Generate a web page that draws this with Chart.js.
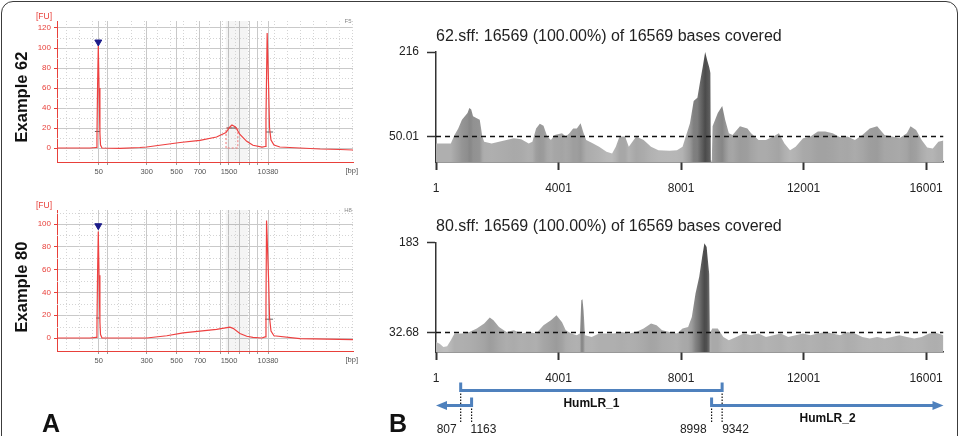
<!DOCTYPE html>
<html>
<head>
<meta charset="utf-8">
<script src="https://cdn.jsdelivr.net/npm/chart.js@4.4.1/dist/chart.umd.min.js"></script>
<style>
  body { margin: 0; background: #fff; font-family: "Liberation Sans", Arial, sans-serif; overflow: hidden; }
  #frame { position: absolute; left: 1px; top: 1px; width: 955px; height: 470px; border: 1.5px solid #3c3c3c; border-radius: 12px; }
  .box { position: absolute; }
  .side { position: absolute; font-weight: bold; font-size: 16.5px; color: #111; white-space: nowrap;
          transform: translate(-50%, -50%) rotate(-90deg); }
  .letter { position: absolute; font-weight: bold; font-size: 25px; line-height: 25px; color: #111; }
</style>
</head>
<body>
<div id="frame"></div>
<div class="box" style="left:0;top:0;width:380px;height:200px"><canvas id="ex62"></canvas></div>
<div class="box" style="left:0;top:195px;width:380px;height:241px"><canvas id="ex80"></canvas></div>
<div class="box" style="left:380px;top:0;width:581px;height:200px"><canvas id="cov62"></canvas></div>
<div class="box" style="left:380px;top:200px;width:581px;height:236px"><canvas id="cov80"></canvas></div>
<div class="side" style="left:21px;top:97px">Example 62</div>
<div class="side" style="left:21px;top:287px">Example 80</div>
<div class="letter" style="left:42px;top:411px">A</div>
<div class="letter" style="left:389px;top:411px">B</div>
<script>
// ---- Panel A: electropherograms (x = migration time, labelled with ladder sizes) ----
var ladderBp     = [50, 100, 300, 500, 700, 1000, 1500, 2000, 3000, 7000, 10380];
var ladderTime   = [34.1, 37.2, 50.3, 60.4, 68.3, 75.1, 78.1, 81.8, 85.2, 87.6, 91.3];
var ladderLabels = ['50', '', '300', '500', '700', '', '1500', '', '', '', '10380'];

var time62 = [20, 31.1, 33.2, 33.5, 33.7, 33.95, 34.2, 34.5, 34.7, 35.2, 41.3, 48.0, 50.3, 61.6, 68.3, 73.9, 77.1, 78.4, 79.1, 80.3,
              81.8, 84.1, 86.2, 89.3, 90.3, 90.6, 91.0, 91.5, 91.8, 92.3, 93.3, 95.3, 102.1, 108.9, 115.6, 120];
var fu62   = [0, 0, 0.5, 10, 60, 102, 60, 15, 3, 0, -0.3, 0.5, 1, 5.5, 7.7, 11, 15.5, 21, 23, 21,
              13.5, 6.7, 2.7, 0.8, 1.5, 30, 115, 60, 20, 8, 3, 1, 0, -1, -1.5, -2];
var fuTicks62 = [0, 20, 40, 60, 80, 100, 120];

var time80 = [20, 31.1, 33.2, 33.5, 33.7, 33.95, 34.2, 34.5, 34.7, 35.2, 41.3, 50.3, 57.1, 62.6, 68.3, 73.9, 78.4, 79.5, 81.8, 84.1,
              86.2, 89.2, 90.3, 90.6, 90.8, 91.5, 91.8, 92.3, 93.3, 102.1, 120];
var fu80   = [0, 0, 0.5, 10, 55, 93.5, 55, 14, 3, 0, 0, 0, 2, 4.5, 6, 7.5, 9.5, 8.5, 4, 1.5,
              0.5, 0, 1, 30, 103, 50, 18, 6, 2, -0.5, -1.5];
var fuTicks80 = [0, 20, 40, 60, 80, 100];

// peak width marks [from, to, level], lower marker and selected region
var marks62 = [[32.8, 34.5, 16.5], [77.4, 80.8, 20], [90.6, 93.0, 16]];
var marks80 = [[33.2, 34.5, 17.5], [90.3, 93.0, 16.5]];
var marker62 = [33.95, 106];
var marker80 = [33.95, 98.5];
var region62 = [77.1, 81.1, 20];

// ---- Panel B: coverage along the mitochondrial genome ----
var pos62 = [1, 485, 606, 727, 848, 1030, 1090, 1151, 1211, 1332, 1429, 1514, 1574, 1816, 2058, 2301, 2543, 2785, 3027, 3148,
             3269, 3390, 3511, 3632, 3753, 3874, 4116, 4237, 4358, 4479, 4600, 4721, 4818, 4903, 5084, 5326, 5568, 5750, 5871, 5992,
             6174, 6295, 6537, 6779, 7021, 7263, 7626, 7868, 8050, 8171, 8292, 8413, 8534, 8618, 8715, 8788, 8860, 8921, 8960, 8975,
             9005, 9030, 9200, 9345, 9441, 9562, 9683, 9925, 10167, 10288, 10531, 10773, 11015, 11196, 11378, 11559, 11741, 11983, 12225, 12467,
             12709, 12951, 13193, 13435, 13677, 13919, 14161, 14403, 14645, 14887, 15130, 15372, 15493, 15674, 15856, 16037, 16219, 16401, 16569];
var cov62 = [36.5, 36.5, 53, 66, 83, 96, 106, 103, 90, 86, 83, 50, 40, 36.5, 40, 43, 46.5, 44.5, 36.5, 40,
             66, 75, 71, 50, 43, 53, 56.5, 50, 56.5, 66, 66, 76, 57, 43, 38, 30, 20, 16.6, 30, 50,
             50, 30, 50, 43, 30, 23, 22, 23, 30, 53, 76, 120, 126, 156, 189, 216, 199, 186, 175, 3,
             3, 70, 96, 110, 83, 56.5, 53, 70, 66, 56.5, 43, 43, 50, 56.5, 36.5, 23, 30, 46.5, 50, 60,
             60, 56.5, 48.5, 50, 43, 53, 66, 70, 53, 50, 46.5, 56.5, 70, 63, 43, 28.6, 26.6, 40, 42];
var max62 = 216, mean62 = 50.01;

var pos80 = [1, 122, 243, 364, 485, 606, 848, 1090, 1332, 1574, 1756, 1877, 2058, 2301, 2543, 2785, 3027, 3269, 3511, 3753,
             3934, 4116, 4237, 4418, 4600, 4697, 4745, 4782, 4818, 4867, 5084, 5326, 5568, 5810, 6053, 6295, 6537, 6779, 7021, 7202,
             7384, 7626, 7868, 8050, 8232, 8352, 8473, 8594, 8691, 8763, 8836, 8897, 8921, 8945, 9018, 9200, 9381, 9562, 9804, 10046,
             10288, 10531, 10773, 11015, 11257, 11499, 11741, 11983, 12225, 12467, 12709, 12951, 13193, 13435, 13677, 13919, 14161, 14403, 14645, 14887,
             15130, 15372, 15614, 15856, 16098, 16340, 16569];
var cov80 = [16.8, 14, 8.4, 9.5, 19.6, 30.8, 30.8, 33.6, 39.2, 47.6, 57.6, 53, 42, 33.6, 36.4, 30.8, 33.6, 30.8, 44.8, 53,
             61.6, 50, 36.4, 30.8, 28, 30.8, 86.7, 88.4, 70, 28, 25, 30.8, 30.8, 30.8, 33.6, 30.8, 33.6, 39.2, 47.6, 44.8,
             36.4, 33.6, 30.8, 39.2, 42, 58.8, 98, 126, 159.5, 182, 176, 142.7, 130, 31, 39.2, 39.2, 25, 19.6, 25, 30.8,
             28, 30.8, 25, 28, 30.8, 25, 28, 30.8, 28, 30.8, 33.6, 30.8, 28, 33.6, 30.8, 25, 22.4, 25, 22.4, 25,
             28, 25, 22.4, 25, 30.8, 32, 28];
var max80 = 183, mean80 = 32.68;

var genomeLength = 16569;
var genomeTicks = [1, 4001, 8001, 12001, 16001];

// long-range PCR amplicons (HumLR_2 wraps around the origin)
var ampliconNames = ['HumLR_1', 'HumLR_2'];
var ampliconStart = [807, 8998];
var ampliconEnd   = [9342, 1163];

Chart.defaults.font.family = '"Liberation Sans", Arial, sans-serif';
Chart.defaults.animation = false;

var RED = '#e8403a';
var BLUE = '#4f81bd';

function pts(xs, ys) {
    return xs.map(function(x, i) { return {x: x, y: ys[i]}; });
}

// dotted minor grid, grey band and the small axis captions of the electropherograms
var electroDecor = {
    id: 'electroDecor',
    beforeDatasetsDraw: function(chart, args, opts) {
        var ctx = chart.ctx, a = chart.chartArea, xs = chart.scales.x, ys = chart.scales.y;
        ctx.save();
        var b0 = xs.getPixelForValue(77), b1 = xs.getPixelForValue(84.5);
        ctx.fillStyle = 'rgba(0,0,0,0.045)';
        ctx.fillRect(b0, a.top, b1 - b0, a.bottom - a.top);
        ctx.strokeStyle = '#d4d4d4';
        ctx.lineWidth = 1;
        ctx.setLineDash([1, 2]);
        for (var t = 23; t < 120; t += 4.4) {
            var px = Math.round(xs.getPixelForValue(t)) + 0.5;
            ctx.beginPath(); ctx.moveTo(px, a.top); ctx.lineTo(px, a.bottom); ctx.stroke();
        }
        for (var v = 10; v < ys.max; v += 20) {
            var py = Math.round(ys.getPixelForValue(v)) + 0.5;
            ctx.beginPath(); ctx.moveTo(a.left, py); ctx.lineTo(a.right, py); ctx.stroke();
        }
        ctx.restore();
    },
    afterDraw: function(chart, args, opts) {
        var ctx = chart.ctx, a = chart.chartArea;
        ctx.save();
        ctx.textBaseline = 'middle';
        ctx.font = '8.5px "Liberation Sans", Arial';
        ctx.fillStyle = RED;
        ctx.textAlign = 'center';
        ctx.fillText('[FU]', a.left - 13, a.top - 4.5);
        ctx.font = '7.5px "Liberation Sans", Arial';
        ctx.fillStyle = '#555';
        ctx.textAlign = 'right';
        ctx.fillText('[bp]', a.right + 5, a.bottom + 9);
        ctx.font = '6px "Liberation Sans", Arial';
        ctx.fillStyle = '#888';
        ctx.textAlign = 'center';
        ctx.fillText(opts.well, a.right - 5, a.top);
        ctx.restore();
    }
};

function electroChart(id, s) {
    var datasets = [{
        data: pts(s.time, s.fu),
        borderColor: '#ee4040', borderWidth: 1.2, pointRadius: 0, tension: 0
    }];
    s.marks.forEach(function(m) {
        datasets.push({data: [{x: m[0], y: m[2]}, {x: m[1], y: m[2]}],
                       borderColor: '#666', borderWidth: 1, pointRadius: 0});
    });
    if (s.region) {
        var r = s.region;
        datasets.push({data: [{x: r[0], y: 0}, {x: r[0], y: r[2]}, {x: r[1], y: r[2]}, {x: r[1], y: 0}, {x: r[0], y: 0}],
                       borderColor: '#f07a7a', borderWidth: 1, borderDash: [2, 2], pointRadius: 0});
    }
    datasets.push({data: [{x: s.marker[0], y: s.marker[1]}], showLine: false,
                   pointStyle: 'triangle', rotation: 180, pointRadius: 4,
                   backgroundColor: '#1c1c8a', borderColor: '#1c1c8a'});

    return new Chart(document.getElementById(id), {
        type: 'line',
        data: {datasets: datasets},
        options: {
            responsive: true,
            maintainAspectRatio: false,
            layout: {padding: s.padding},
            plugins: {legend: {display: false}, tooltip: {enabled: false}, electroDecor: {well: s.well}},
            scales: {
                x: {
                    type: 'linear', min: 20, max: 120,
                    afterBuildTicks: function(scale) { scale.ticks = ladderTime.map(function(v) { return {value: v}; }); },
                    afterFit: function(scale) { scale.height = 38; },
                    ticks: {
                        autoSkip: false, maxRotation: 0, padding: 2, color: '#555', font: {size: 7.5},
                        callback: function(v, i) { return ladderLabels[i]; }
                    },
                    grid: {color: '#c9c9c9', tickLength: 3, tickColor: '#999'},
                    border: {color: RED, width: 1}
                },
                y: {
                    min: s.yMin, max: s.yMax,
                    afterBuildTicks: function(scale) { scale.ticks = s.yTicks.map(function(v) { return {value: v}; }); },
                    afterFit: function(scale) { scale.width = 57; },
                    ticks: {padding: 3, color: RED, font: {size: 8}},
                    grid: {color: '#c9c9c9', tickLength: 3, tickColor: RED},
                    border: {color: RED, width: 1}
                }
            }
        },
        plugins: [electroDecor]
    });
}

electroChart('ex62', {time: time62, fu: fu62, yTicks: fuTicks62, yMin: -14, yMax: 127,
                      marks: marks62, marker: marker62, region: region62, well: 'F5',
                      padding: {top: 21, right: 27, bottom: 0, left: 0}});
electroChart('ex80', {time: time80, fu: fu80, yTicks: fuTicks80, yMin: -11.4, yMax: 112.3,
                      marks: marks80, marker: marker80, well: 'H8',
                      padding: {top: 15, right: 27, bottom: 47, left: 0}});

// ---- coverage plots ----
function drawArrowHead(ctx, tipX, y, dir) {
    ctx.beginPath();
    ctx.moveTo(tipX, y);
    ctx.lineTo(tipX - dir * 11, y - 4.5);
    ctx.lineTo(tipX - dir * 11, y + 4.5);
    ctx.closePath();
    ctx.fill();
}

function drawAmplicons(chart) {
    var ctx = chart.ctx, xs = chart.scales.x, base = chart.chartArea.bottom;
    var px = function(v) { return xs.getPixelForValue(v); };
    var yBar = base + 38.5, yArr = base + 53.5, yDot = base + 71.5, yNum = base + 77.5;
    var s1 = px(ampliconStart[0]), e1 = px(ampliconEnd[0]);
    var s2 = px(ampliconStart[1]), e2 = px(ampliconEnd[1]);
    var left = px(1), right = px(genomeLength);

    ctx.save();
    // dotted guides down to the coordinates
    ctx.strokeStyle = '#111';
    ctx.lineWidth = 1.2;
    ctx.setLineDash([1.5, 1.5]);
    [[s1, yBar], [e1, yBar], [e2, yArr], [s2, yArr]].forEach(function(g) {
        ctx.beginPath(); ctx.moveTo(g[0], g[1]); ctx.lineTo(g[0], yDot); ctx.stroke();
    });
    ctx.setLineDash([]);

    ctx.strokeStyle = BLUE;
    ctx.fillStyle = BLUE;
    ctx.lineWidth = 3;
    // HumLR_1 bracket
    ctx.beginPath();
    ctx.moveTo(s1, yBar - 8); ctx.lineTo(s1, yBar); ctx.lineTo(e1, yBar); ctx.lineTo(e1, yBar - 8);
    ctx.stroke();
    // HumLR_2, across the origin
    ctx.beginPath();
    ctx.moveTo(e2, yArr - 8); ctx.lineTo(e2, yArr); ctx.lineTo(left + 9, yArr);
    ctx.stroke();
    drawArrowHead(ctx, left, yArr, -1);
    ctx.beginPath();
    ctx.moveTo(s2, yArr - 8); ctx.lineTo(s2, yArr); ctx.lineTo(right - 9, yArr);
    ctx.stroke();
    drawArrowHead(ctx, right, yArr, 1);

    ctx.fillStyle = '#111';
    ctx.textBaseline = 'middle';
    ctx.font = 'bold 12px "Liberation Sans", Arial';
    ctx.textAlign = 'center';
    ctx.fillText(ampliconNames[0], (s1 + e1) / 2, base + 51.5);
    ctx.fillText(ampliconNames[1], (s2 + right) / 2, base + 66.5);

    ctx.font = '12px "Liberation Sans", Arial';
    ctx.fillStyle = '#222';
    ctx.textAlign = 'right';
    ctx.fillText(String(ampliconStart[0]), s1 - 4, yNum);
    ctx.fillText(String(ampliconStart[1]), s2 - 5, yNum);
    ctx.textAlign = 'left';
    ctx.fillText(String(ampliconEnd[1]), e2 - 1, yNum);
    ctx.fillText(String(ampliconEnd[0]), e1, yNum);
    ctx.restore();
}

var coverDecor = {
    id: 'coverDecor',
    afterDraw: function(chart, args, opts) {
        var ctx = chart.ctx, a = chart.chartArea;
        ctx.save();
        ctx.font = '16px "Liberation Sans", Arial';
        ctx.fillStyle = '#222';
        ctx.textAlign = 'left';
        ctx.textBaseline = 'alphabetic';
        ctx.fillText(opts.title, a.left, a.top - 11.5);
        ctx.restore();
        if (opts.amplicons) drawAmplicons(chart);
    }
};

function coverageChart(id, s) {
    // grey gradient along the genome, darker where the coverage is higher
    var grey = function(v) {
        var g = Math.round(Math.max(75, 195 - 120 * v / s.max));
        return 'rgb(' + g + ',' + g + ',' + g + ')';
    };
    var fillGradient = function(c) {
        var chart = c.chart, a = chart.chartArea;
        if (!a) return '#adadad';
        var xs = chart.scales.x;
        var grad = chart.ctx.createLinearGradient(a.left, 0, a.right, 0);
        s.pos.forEach(function(p, i) {
            var f = (xs.getPixelForValue(p) - a.left) / (a.right - a.left);
            grad.addColorStop(Math.min(1, Math.max(0, f)), grey(s.cov[i]));
        });
        return grad;
    };
    return new Chart(document.getElementById(id), {
        type: 'line',
        data: {
            datasets: [{
                data: pts(s.pos, s.cov),
                fill: 'origin',
                backgroundColor: fillGradient,
                borderColor: 'rgba(0,0,0,0)',
                borderWidth: 0,
                pointRadius: 0,
                tension: 0,
                order: 2
            }, {
                data: [{x: 1, y: s.mean}, {x: genomeLength, y: s.mean}],
                borderColor: '#111', borderWidth: 1.6, borderDash: [5, 4], pointRadius: 0, fill: false,
                order: 1
            }]
        },
        options: {
            responsive: true,
            maintainAspectRatio: false,
            layout: {padding: s.padding},
            plugins: {legend: {display: false}, tooltip: {enabled: false},
                      coverDecor: {title: s.title, amplicons: s.amplicons}},
            scales: {
                x: {
                    type: 'linear', min: 1, max: genomeLength,
                    afterBuildTicks: function(scale) { scale.ticks = genomeTicks.map(function(v) { return {value: v}; }); },
                    afterFit: function(scale) { scale.height = 38; },
                    ticks: {autoSkip: false, maxRotation: 0, padding: 11, color: '#222', font: {size: 12},
                            callback: function(v) { return String(v); }},
                    grid: {drawOnChartArea: false, tickLength: 8, tickWidth: 2, tickColor: '#333'},
                    border: {color: '#333', width: 1.5}
                },
                y: {
                    min: 0, max: s.max,
                    afterBuildTicks: function(scale) { scale.ticks = [{value: s.max}, {value: s.mean}]; },
                    afterFit: function(scale) { scale.width = 56; },
                    ticks: {padding: 8, color: '#222', font: {size: 12},
                            callback: function(v) { return String(v); }},
                    grid: {drawOnChartArea: false, tickLength: 9, tickWidth: 1.5, tickColor: '#333'},
                    border: {color: '#333', width: 1.5}
                }
            }
        },
        plugins: [coverDecor]
    });
}

coverageChart('cov62', {pos: pos62, cov: cov62, max: max62, mean: mean62,
                        title: '62.sff: 16569 (100.00%) of 16569 bases covered',
                        padding: {top: 52, right: 17.5, bottom: 0, left: 0}});
coverageChart('cov80', {pos: pos80, cov: cov80, max: max80, mean: mean80, amplicons: true,
                        title: '80.sff: 16569 (100.00%) of 16569 bases covered',
                        padding: {top: 42.7, right: 17.5, bottom: 46, left: 0}});
</script>
</body>
</html>
